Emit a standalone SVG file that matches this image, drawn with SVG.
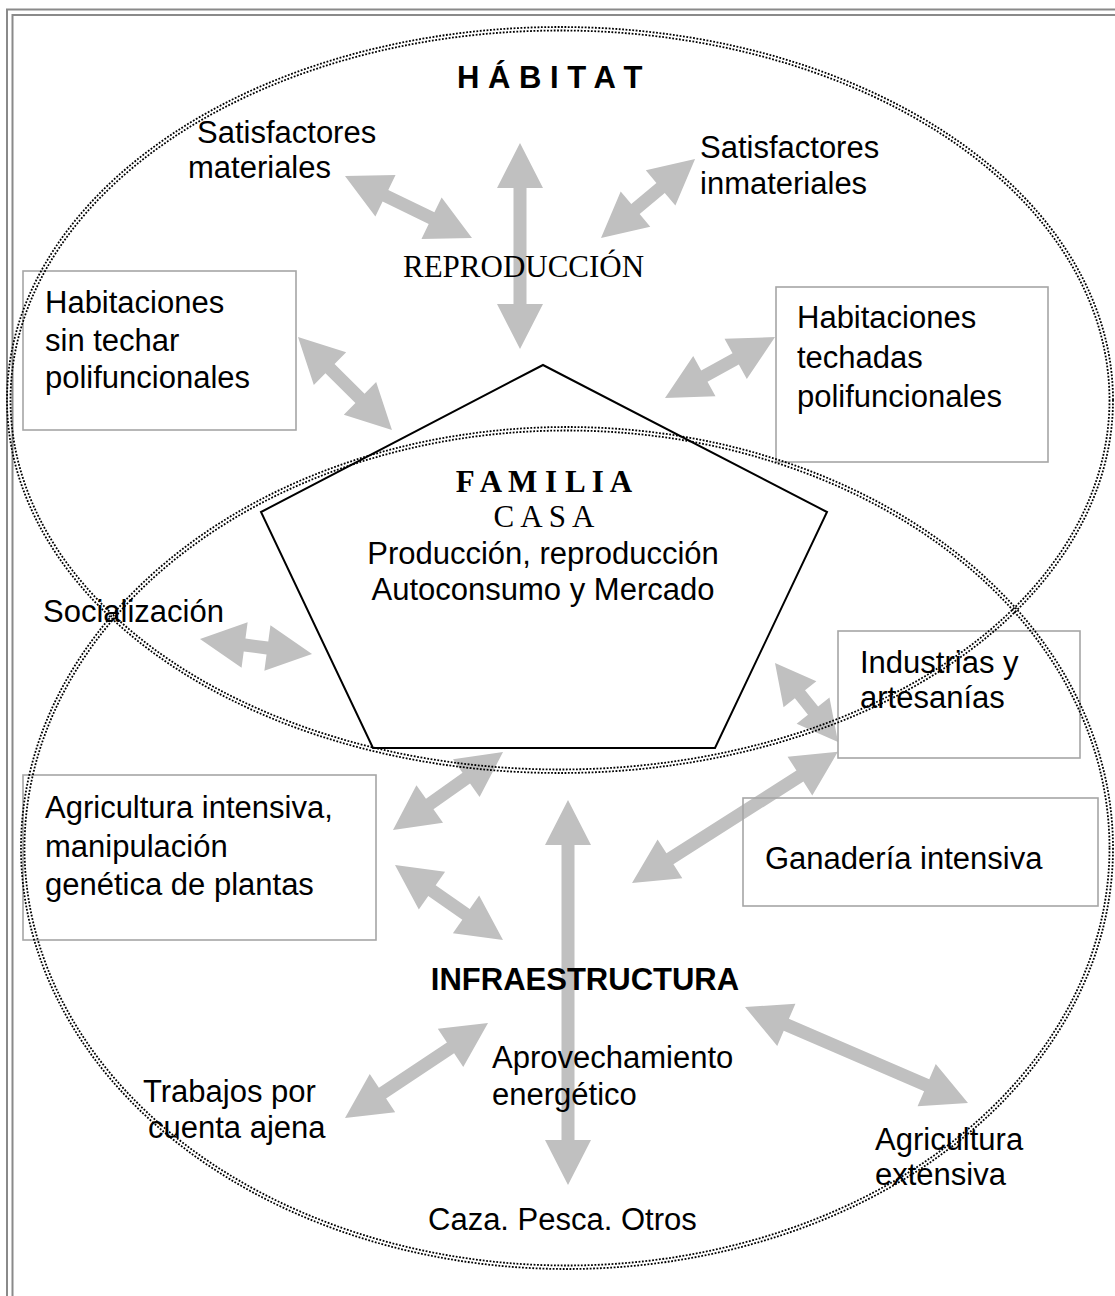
<svg xmlns="http://www.w3.org/2000/svg" width="1115" height="1296" viewBox="0 0 1115 1296">
  <style>
    .sans { font-family: "Liberation Sans", Arial, sans-serif; font-size: 31px; fill: #000; }
    .serif { font-family: "Liberation Serif", "Times New Roman", serif; font-size: 31px; fill: #000; }
    .bold { font-weight: bold; }
    .box { fill: none; stroke: #a6a6a6; stroke-width: 1.6; }
    .frame { fill: none; stroke: #8a8a8a; stroke-width: 2; }
    .ring { fill: none; stroke: #000; stroke-width: 1.8; stroke-dasharray: 1.8 1.6; }
    .arrow { fill: #c0c0c0; stroke: none; }
    .penta { fill: #fff; stroke: #000; stroke-width: 2; }
  </style>

  <rect width="1115" height="1296" fill="#fff"/>

  <!-- double page frame -->
  <path class="frame" d="M7,1300 V9.5 H1120"/>
  <path class="frame" d="M12.5,1300 V15 H1120"/>

  <!-- central pentagon -->
  <g id="familia">
    <polygon class="penta" points="543,365 827,512 715,748 373,748 261,512"/>
    <text class="serif bold" x="544" y="492" text-anchor="middle">F A M I L I A</text>
    <text class="serif" x="544" y="527" text-anchor="middle">C A S A</text>
    <text class="sans" x="543" y="564" text-anchor="middle">Producción, reproducción</text>
    <text class="sans" x="543" y="600" text-anchor="middle">Autoconsumo y Mercado</text>
  </g>

  <!-- double-headed connectors -->
  <g id="connectors">
    <path class="arrow" transform="translate(520 143) rotate(90)" d="M0,0 L45,-23 L45,-6.5 L161,-6.5 L161,-23 L206,0 L161,23 L161,6.5 L45,6.5 L45,23 Z"/>
    <path class="arrow" transform="translate(345 176) rotate(26)" d="M0,0 L45,-23 L45,-6.5 L96.3,-6.5 L96.3,-23 L141.3,0 L96.3,23 L96.3,6.5 L45,6.5 L45,23 Z"/>
    <path class="arrow" transform="translate(601 238) rotate(-40)" d="M0,0 L45,-23 L45,-6.5 L77.8,-6.5 L77.8,-23 L122.8,0 L77.8,23 L77.8,6.5 L45,6.5 L45,23 Z"/>
    <path class="arrow" transform="translate(298 337) rotate(44.7)" d="M0,0 L45,-23 L45,-6.5 L87.2,-6.5 L87.2,-23 L132.2,0 L87.2,23 L87.2,6.5 L45,6.5 L45,23 Z"/>
    <path class="arrow" transform="translate(665 398) rotate(-29)" d="M0,0 L45,-23 L45,-6.5 L80.8,-6.5 L80.8,-23 L125.8,0 L80.8,23 L80.8,6.5 L45,6.5 L45,23 Z"/>
    <path class="arrow" transform="translate(200 639) rotate(7.6)" d="M0,0 L45,-23 L45,-6.5 L68,-6.5 L68,-23 L113,0 L68,23 L68,6.5 L45,6.5 L45,23 Z"/>
    <path class="arrow" transform="translate(775 663) rotate(51.4)" d="M0,0 L40,-21 L40,-6.5 L61,-6.5 L61,-21 L101,0 L61,21 L61,6.5 L40,6.5 L40,21 Z"/>
    <path class="arrow" transform="translate(393 830) rotate(-35.3)" d="M0,0 L45,-23 L45,-6.5 L89.8,-6.5 L89.8,-23 L134.8,0 L89.8,23 L89.8,6.5 L45,6.5 L45,23 Z"/>
    <path class="arrow" transform="translate(568 800) rotate(90)" d="M0,0 L45,-23 L45,-6.5 L340,-6.5 L340,-23 L385,0 L340,23 L340,6.5 L45,6.5 L45,23 Z"/>
    <path class="arrow" transform="translate(395 865) rotate(34.8)" d="M0,0 L45,-23 L45,-6.5 L86.5,-6.5 L86.5,-23 L131.5,0 L86.5,23 L86.5,6.5 L45,6.5 L45,23 Z"/>
    <path class="arrow" transform="translate(632 883) rotate(-32.5)" d="M0,0 L45,-23 L45,-6.5 L199.1,-6.5 L199.1,-23 L244.1,0 L199.1,23 L199.1,6.5 L45,6.5 L45,23 Z"/>
    <path class="arrow" transform="translate(345 1118) rotate(-33.6)" d="M0,0 L45,-23 L45,-6.5 L126.7,-6.5 L126.7,-23 L171.7,0 L126.7,23 L126.7,6.5 L45,6.5 L45,23 Z"/>
    <path class="arrow" transform="translate(745 1007) rotate(23.3)" d="M0,0 L45,-23 L45,-6.5 L197.8,-6.5 L197.8,-23 L242.8,0 L197.8,23 L197.8,6.5 L45,6.5 L45,23 Z"/>
  </g>

  <g id="satisfactores-materiales">
    <text class="sans" x="197" y="143">Satisfactores</text>
    <text class="sans" x="188" y="178">materiales</text>
  </g>
  <g id="satisfactores-inmateriales">
    <text class="sans" x="700" y="158">Satisfactores</text>
    <text class="sans" x="700" y="194">inmateriales</text>
  </g>
  <g id="reproduccion">
    <text class="serif" x="403" y="277">REPRODUCCIÓN</text>
  </g>
  <g id="habitaciones-sin-techar">
    <rect class="box" x="23" y="271" width="273" height="159"/>
    <text class="sans" x="45" y="313">Habitaciones</text>
    <text class="sans" x="45" y="351">sin techar</text>
    <text class="sans" x="45" y="388">polifuncionales</text>
  </g>
  <g id="habitaciones-techadas">
    <rect class="box" x="776" y="287" width="272" height="175"/>
    <text class="sans" x="797" y="328">Habitaciones</text>
    <text class="sans" x="797" y="368">techadas</text>
    <text class="sans" x="797" y="407">polifuncionales</text>
  </g>
  <g id="socializacion">
    <text class="sans" x="43" y="622">Socialización</text>
  </g>
  <g id="industrias">
    <rect class="box" x="838" y="631" width="242" height="127"/>
    <text class="sans" x="860" y="673">Industrias y</text>
    <text class="sans" x="860" y="708">artesanías</text>
  </g>
  <g id="agricultura-intensiva">
    <rect class="box" x="23" y="775" width="353" height="165"/>
    <text class="sans" x="45" y="818">Agricultura intensiva,</text>
    <text class="sans" x="45" y="857">manipulación</text>
    <text class="sans" x="45" y="895">genética de plantas</text>
  </g>
  <g id="ganaderia">
    <rect class="box" x="743" y="798" width="355" height="108"/>
    <text class="sans" x="765" y="869">Ganadería intensiva</text>
  </g>
  <g id="infraestructura">
    <text class="sans bold" x="585" y="990" text-anchor="middle">INFRAESTRUCTURA</text>
  </g>
  <g id="aprovechamiento">
    <text class="sans" x="492" y="1068">Aprovechamiento</text>
    <text class="sans" x="492" y="1105">energético</text>
  </g>
  <g id="trabajos">
    <text class="sans" x="143" y="1102">Trabajos por</text>
    <text class="sans" x="148" y="1138">cuenta ajena</text>
  </g>
  <g id="agricultura-extensiva">
    <text class="sans" x="875" y="1150">Agricultura</text>
    <text class="sans" x="875" y="1185">extensiva</text>
  </g>
  <g id="caza">
    <text class="sans" x="428" y="1230">Caza. Pesca. Otros</text>
  </g>

  <!-- habitat region: double dotted ellipse -->
  <g id="habitat">
    <ellipse class="ring" cx="560" cy="400" rx="553" ry="373"/>
    <ellipse class="ring" cx="560" cy="400" rx="549.5" ry="369.5"/>
    <text class="sans bold" x="457" y="88">H Á B I T A T</text>
  </g>
  <!-- infrastructure region: double dotted ellipse -->
  <g id="infraestructura-region">
    <ellipse class="ring" cx="567" cy="848" rx="546" ry="421"/>
    <ellipse class="ring" cx="567" cy="848" rx="542.5" ry="417.5"/>
  </g>
</svg>
